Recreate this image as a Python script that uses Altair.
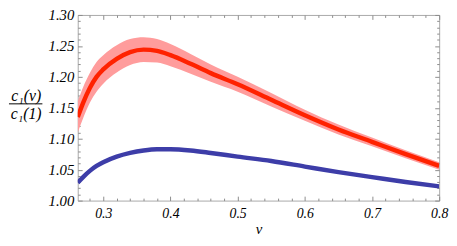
import altair as alt
import pandas as pd

nu = [0.262, 0.27, 0.28, 0.29, 0.30, 0.32, 0.34, 0.36, 0.38, 0.40,
      0.43, 0.46, 0.50, 0.55, 0.60, 0.65, 0.70, 0.75, 0.80]
red_mid = [1.135, 1.158, 1.182, 1.200, 1.212, 1.229, 1.240, 1.244, 1.242, 1.235,
           1.221, 1.206, 1.188, 1.163, 1.138, 1.115, 1.095, 1.075, 1.056]
red_lo = [1.110, 1.133, 1.158, 1.176, 1.189, 1.207, 1.219, 1.224, 1.223, 1.217,
          1.205, 1.192, 1.176, 1.152, 1.129, 1.107, 1.088, 1.0685, 1.050]
red_hi = [1.160, 1.183, 1.206, 1.224, 1.235, 1.251, 1.261, 1.264, 1.261, 1.253,
          1.237, 1.220, 1.200, 1.174, 1.147, 1.123, 1.102, 1.0815, 1.062]
blue = [1.029, 1.038, 1.048, 1.056, 1.062, 1.071, 1.077, 1.081, 1.083, 1.083,
        1.081, 1.077, 1.071, 1.064, 1.055, 1.046, 1.038, 1.030, 1.023]

x_major = [0.3, 0.4, 0.5, 0.6, 0.7, 0.8]
x_minor = [0.28, 0.32, 0.34, 0.36, 0.38, 0.42, 0.44, 0.46, 0.48, 0.52, 0.54,
           0.56, 0.58, 0.62, 0.64, 0.66, 0.68, 0.72, 0.74, 0.76, 0.78]
y_major = [1.00, 1.05, 1.10, 1.15, 1.20, 1.25, 1.30]
y_minor = [1.01, 1.02, 1.03, 1.04, 1.06, 1.07, 1.08, 1.09, 1.11, 1.12, 1.13,
           1.14, 1.16, 1.17, 1.18, 1.19, 1.21, 1.22, 1.23, 1.24, 1.26, 1.27,
           1.28, 1.29]

y_title = ["c₁(ν)", "c₁(1)"]
x_title = "ν"

df = pd.DataFrame({"nu": nu, "mid": red_mid, "lo": red_lo, "hi": red_hi, "blue": blue})

TOP = 5
W, H = 368, 189
xs = alt.Scale(domain=[0.262, 0.8], nice=False, zero=False)
ys = alt.Scale(domain=[1.0, 1.3], nice=False, zero=False)
TICK = "#8c8c8c"
FONT = "Liberation Serif, DejaVu Serif, serif"


def tick_axis(orient, offset, values, size):
    return alt.Axis(orient=orient, offset=offset, values=values, tickSize=size,
                    labels=False, domain=False, grid=False, title=None,
                    tickColor=TICK, tickWidth=1)


base = alt.Chart(df)

band = base.mark_area(color="#FF9C9C", opacity=1, interpolate="monotone", clip=True).encode(
    x=alt.X("nu:Q", scale=xs,
            axis=alt.Axis(orient="bottom", values=x_major, format=".1f", ticks=False,
                          domain=False, grid=False, labelFont=FONT, labelFontStyle="italic",
                          labelFontSize=14, labelColor="black", labelPadding=6,
                          labelFlush=False, labelOverlap=False,
                          title=x_title, titleFont=FONT, titleFontStyle="italic",
                          titleFontWeight="normal", titleFontSize=15, titleColor="black",
                          titlePadding=2)),
    y=alt.Y("lo:Q", scale=ys,
            axis=alt.Axis(orient="left", values=y_major, format=".2f", ticks=False,
                          domain=False, grid=False, labelFont=FONT, labelFontStyle="italic",
                          labelFontSize=15, labelColor="black", labelPadding=4,
                          labelFlush=False, labelOverlap=False,
                          title=y_title, titleFont=FONT, titleFontStyle="italic",
                          titleFontWeight="normal", titleFontSize=16, titleColor="black",
                          titleAngle=0, titleAlign="center", titleBaseline="middle",
                          titleX=-53, titleY=95 - 8 - TOP, titleLineHeight=18)),
    y2="hi:Q",
)

red = base.mark_line(color="#FF2200", strokeWidth=4.5, interpolate="monotone", clip=True).encode(
    x=alt.X("nu:Q", scale=xs, axis=tick_axis("top", -H, x_major, 4.5)),
    y=alt.Y("mid:Q", scale=ys, axis=tick_axis("right", -W, y_major, 4.5)),
)

blue_line = base.mark_line(color="#3D3DA8", strokeWidth=4.5, interpolate="monotone", clip=True).encode(
    x=alt.X("nu:Q", scale=xs, axis=tick_axis("top", -H, x_minor, 2.5)),
    y=alt.Y("blue:Q", scale=ys, axis=tick_axis("right", -W, y_minor, 2.5)),
)

ghost1 = base.mark_line(strokeOpacity=0).encode(
    x=alt.X("nu:Q", scale=xs, axis=tick_axis("bottom", -H, x_major, 4.5)),
    y=alt.Y("blue:Q", scale=ys, axis=tick_axis("left", -W, y_major, 4.5)),
)

ghost2 = base.mark_line(strokeOpacity=0).encode(
    x=alt.X("nu:Q", scale=xs, axis=tick_axis("bottom", -H, x_minor, 2.5)),
    y=alt.Y("blue:Q", scale=ys, axis=tick_axis("left", -W, y_minor, 2.5)),
)

# fraction bar of the y-axis title
frac_bar = alt.Chart(pd.DataFrame({"k": [0]})).mark_rule(color="black", strokeWidth=1, clip=False).encode(
    x=alt.value(-70), x2=alt.value(-36), y=alt.value(103.5 - 8 - TOP)
)

chart = alt.layer(band, red, blue_line, ghost1, ghost2, frac_bar).resolve_axis(
    x="independent", y="independent"
).properties(
    width=W, height=H,
    autosize=alt.AutoSizeParams(type="none"),
    padding={"left": 71, "top": TOP, "right": 10, "bottom": 36},
).configure_view(stroke="#a8a8a8", strokeWidth=1)

chart.save("out.html", embed_options={"renderer": "svg", "actions": False})
